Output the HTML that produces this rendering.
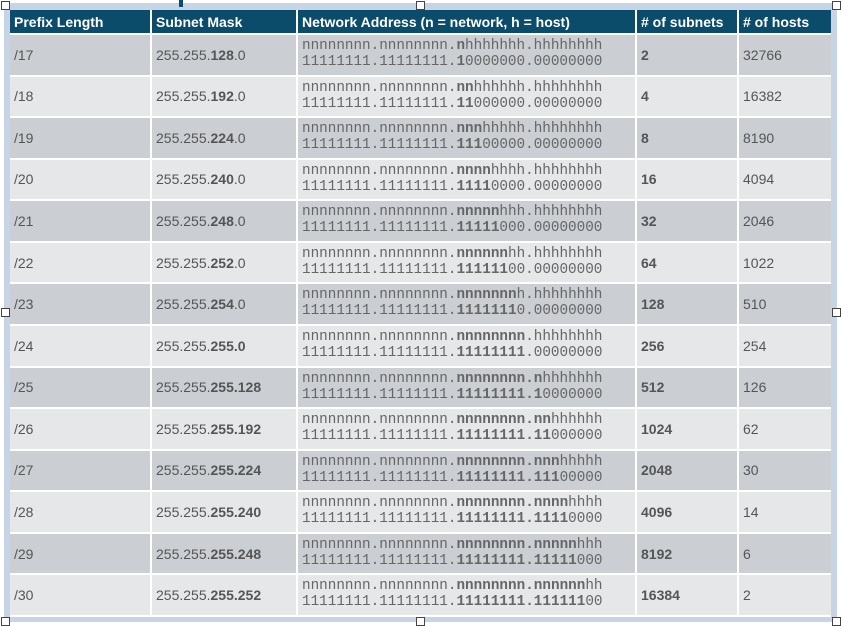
<!DOCTYPE html>
<html><head><meta charset="utf-8">
<style>
body{margin:0;width:841px;height:626px;background:#fff;position:relative;overflow:hidden;font-family:"Liberation Sans",sans-serif}
.frame{position:absolute;left:4px;top:3px;width:833px;height:619px;background:#c6d4e6}
.tbl{position:absolute;left:10px;top:10px;width:821px;height:607px;background:#fff}
.c{position:absolute;box-sizing:border-box;color:#555;font-size:14px;display:flex;align-items:center;padding-left:4px;white-space:pre}
.h{background:#0a4c69;color:#fff;font-weight:bold;font-size:14px}
.m{font-family:"Liberation Mono",monospace;font-size:14.3px;line-height:16px;display:block;padding-top:3px;color:#666}
.hd{position:absolute;width:9px;height:9px;border:1px solid #444;background:#fff;box-sizing:border-box}
</style></head><body>
<div class="frame"></div>
<div style="position:absolute;left:179px;top:0;width:4px;height:7px;background:#0a4c69"></div>
<div class="tbl" id="tbl"></div>
<div class="hd" style="left:1px;top:1px"></div>
<div class="hd" style="left:416px;top:1px"></div>
<div class="hd" style="left:832px;top:1px"></div>
<div class="hd" style="left:1px;top:308px"></div>
<div class="hd" style="left:832px;top:308px"></div>
<div class="hd" style="left:1px;top:617px"></div>
<div class="hd" style="left:416px;top:617px"></div>
<div class="hd" style="left:832px;top:617px"></div>
<script>
const prefixes=[17,18,19,20,21,22,23,24,25,26,27,28,29,30];
const subnets=[2,4,8,16,32,64,128,256,512,1024,2048,4096,8192,16384];
const hosts=[32766,16382,8190,4094,2046,1022,510,254,126,62,30,14,6,2];
const headers=["Prefix Length","Subnet Mask","Network Address (n = network, h = host)","# of subnets","# of hosts"];
const colX=[0,142,288,627,729], colW=[140,144,337,100,92];
const T=document.getElementById('tbl');
function cell(i,y,h,cls,html,name){
  const d=document.createElement('div');
  d.className='c '+cls;
  
  
  d.style.left=colX[i]+'px';d.style.top=y+'px';d.style.width=colW[i]+'px';d.style.height=h+'px';
  d.innerHTML=html;T.appendChild(d);
}
headers.forEach((t,i)=>cell(i,0,23,'h',t,'header-cell'));
function bits(p,on,off){
  let s='';
  for(let b=1;b<=32;b++){
    const ch=b<=p?on:off; const bold=b>16&&b<=p;
    s+=bold?'<b>'+ch+'</b>':ch;
    if(b%8==0&&b<32) s+=(b==24&&p>24)?'<b>.</b>':'.';
  }
  return s;
}
function mask(p){
  const v=[];for(let o=0;o<4;o++){let n=0;for(let b=0;b<8;b++){if(o*8+b<p)n+=128>>b;}v.push(n);}
  if(p<24) return '255.255.<b>'+v[2]+'</b>.'+v[3];
  return '255.255.<b>'+v[2]+'.'+v[3]+'</b>';
}
const rh=41.57;
prefixes.forEach((p,r)=>{
  const y=25+r*rh, h=rh-2, bg=r%2?'#e6e7e9':'#cbced3';
  const st='style';
  cell(0,y,h,'','/'+p,'prefix-cell');
  cell(1,y,h,'',mask(p),'mask-cell');
  cell(2,y,h,'m',bits(p,'n','h')+'\n'+bits(p,'1','0'),'network-address-cell');
  cell(3,y,h,'','<b>'+subnets[r]+'</b>','subnets-cell');
  cell(4,y,h,'',String(hosts[r]),'hosts-cell');
  [...T.children].slice(-5).forEach(e=>e.style.background=bg);
});
</script>
</body></html>
